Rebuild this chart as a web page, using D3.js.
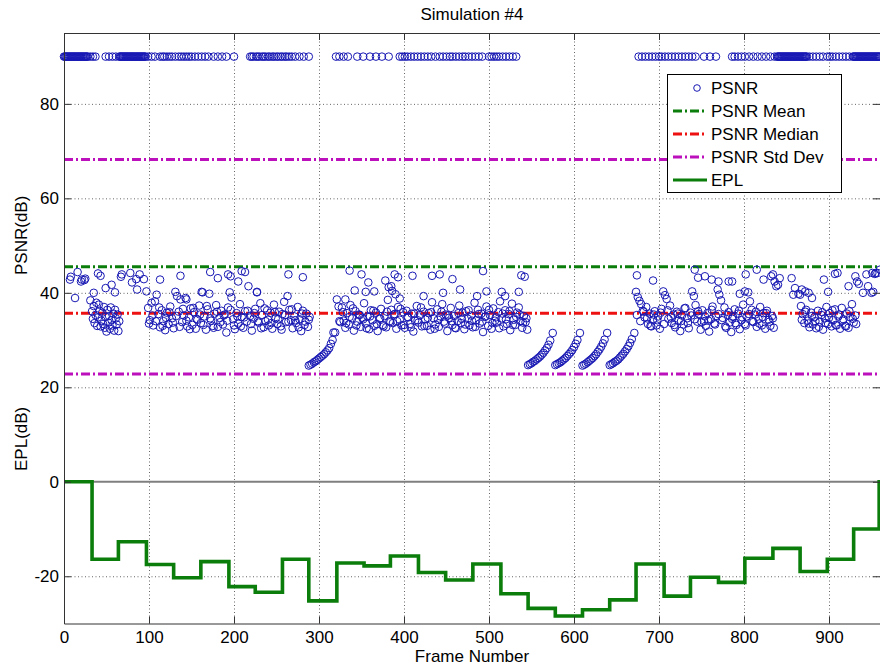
<!DOCTYPE html>
<html>
<head>
<meta charset="utf-8">
<script src="https://cdn.jsdelivr.net/npm/d3@7"></script>
<style>
  body { margin: 0; background: #fff; }
  svg { display: block; font-family: "Liberation Sans", Arial, sans-serif; }
</style>
</head>
<body>
<svg id="chart" width="880" height="670"></svg>
<script>
// ---- data ----
// frames where PSNR saturates at 90 dB (identical frames)
var cappedFrames = [0,1,2,3,4,5,6,7,8,9,10,11,12,13,14,15,16,17,18,19,20,21,22,23,24,25,26,27,28,
  31,34,37,49,53,57,61,
  65,66,67,68,69,70,71,72,73,74,75,76,77,78,79,80,81,82,83,84,85,86,87,88,89,90,91,92,93,94,95,96,99,
  103,107,113,116,118,121,124,127,131,135,138,141,144,147,150,154,158,162,166,170,176,181,186,191,200,
  219,221,223,226,228,230,233,235,237,240,242,245,247,250,252,255,257,260,262,265,268,272,277,282,288,
  320,324,329,334,345,352,360,367,374,382,
  395,398,401,404,408,412,416,420,424,428,432,437,442,446,450,454,457,461,465,469,472,476,480,484,488,492,
  500,503,506,509,512,516,520,524,528,532,
  676,680,684,688,692,696,700,703,707,711,715,719,723,727,731,735,739,743,753,760,767,
  786,789,793,797,801,806,811,816,821,826,831,836,
  839,840,841,842,843,844,845,846,847,848,849,850,851,852,853,854,855,856,857,858,859,860,861,862,863,864,865,866,867,868,869,870,871,872,873,874,
  877,881,885,889,893,898,901,904,908,912,916,920,924,
  928,929,930,931,932,933,934,935,936,937,938,939,940,941,942,943,944,945,946,947,948,949,950,951,952,953,954,955,956,957,958,959,960];
var cappedValue = 90;

// [frame, PSNR dB] for frames decoded with loss
var psnrStart = [[7,42.8],[8,43.4],[13,38.9],[16,44.4],[20,42.4],[21,42.8],[24,42.7],[25,43.0],[31,38.4],[35,40.0],[40,44.1],[43,43.6],
  [49,41.0],[56,41.7],[60,40.1],[67,43.4],[68,43.9],[78,44.2],[80,42.2],[85,42.9],[86,40.7],[89,43.9],[94,42.9],[97,40.3]];
var psnrBand1 = [[33,36.1],[34,34.5],[35,37.2],[36,33.6],[37,35.3],[38,37.9],[39,33.0],[40,34.8],[41,37.5],[42,36.2],[43,32.9],[44,34.1],
  [45,35.8],[46,33.4],[47,37.0],[48,32.6],[49,34.9],[50,31.8],[51,36.4],[52,33.7],[53,35.1],[54,32.4],[55,36.9],[56,34.2],[57,33.1],
  [58,35.6],[59,32.0],[60,36.4],[61,34.6],[62,33.3],[63,35.4],[64,31.9],[65,34.0]];
var psnrBand2 = [[99,36.8],[101,34.2],[103,37.9],[105,33.1],[107,38.2],[109,39.6],[111,35.5],[113,32.7],[115,36.3],[117,34.0],[119,32.1],
  [121,35.8],[123,33.4],[125,37.1],[127,34.6],[129,32.5],[131,40.2],[133,39.3],[135,36.0],[137,38.6],[139,33.8],[141,35.2],[143,38.9],
  [145,32.9],[147,34.8],[149,36.7],[151,33.2],[153,35.9],[155,32.4],[157,34.3],[159,37.3],[161,33.6],[163,40.1],[165,35.0],[167,32.2],
  [169,36.5],[171,39.8],[173,34.1],[175,33.0],[177,35.6],[179,37.4],[181,32.8],[183,34.7],[185,36.2],[187,33.3],[189,35.4],[191,31.6],
  [193,36.9],[195,40.1],[197,39.0],[199,34.4],[201,32.3],[203,35.7],[205,33.5],[207,37.6],[209,34.9],[211,32.6],[213,36.1],[215,33.9],
  [217,41.4],[219,35.1],[221,32.0],[223,34.5],[225,36.6],[227,40.2],[229,33.7],[231,37.8],[233,35.3],[235,32.7],[237,34.0],[239,36.3],
  [241,33.1],[243,35.8],[245,32.4],[247,37.5],[249,34.6],[251,33.4],[253,36.0],[255,32.9],[257,35.5],[259,38.1],[261,33.8],[263,39.3],
  [265,36.4],[267,34.2],[269,32.5],[271,35.0],[273,33.6],[275,37.0],[277,34.4],[279,31.9],[281,36.2],[283,33.2],[285,35.6],[287,32.8],[289,34.9],
  [100,33.5],[104,35.2],[108,34.0],[112,36.9],[116,33.0],[120,34.7],[124,35.9],[128,33.7],[132,35.1],[136,32.8],[140,36.6],[144,34.1],
  [148,32.3],[152,36.8],[156,34.5],[160,35.4],[164,33.2],[168,37.2],[172,34.6],[176,32.6],[180,36.0],[184,33.8],[188,35.2],[192,34.1],
  [196,36.4],[200,33.1],[204,35.0],[208,32.9],[212,34.8],[216,36.2],[220,33.4],[224,35.7],[228,34.0],[232,32.5],[236,36.7],[240,34.3],
  [244,33.6],[248,35.9],[252,34.4],[256,32.2],[260,35.3],[264,33.9],[268,36.5],[272,34.2],[276,32.7],[280,35.6],[284,33.9],[288,34.3],
  [113,42.8],[137,43.6],[172,44.4],[181,43.1],[193,43.9],[196,43.5],[205,42.4],[209,44.6],[213,44.4],[227,40.1],[264,43.9],[281,43.3],[162,40.2],[144,38.6]];
var psnrRamp1 = [[288,24.6],[290,24.8],[292,25.0],[294,25.3],[296,25.5],[298,25.8],[300,26.1],[302,26.4],[304,26.7],[306,27.0],[308,27.4],
  [310,27.8],[312,28.3],[314,29.2],[316,30.0],[317,31.6],[319,31.6]];
var psnrBand3 = [[321,38.6],[323,37.1],[325,33.8],[327,36.9],[329,34.1],[331,32.6],[333,35.7],[335,33.3],[337,37.4],[339,34.6],[341,32.0],
  [343,36.1],[345,33.9],[347,35.4],[349,32.8],[351,34.7],[353,37.8],[355,33.5],[357,35.0],[359,32.3],[361,36.3],[363,34.2],[365,33.0],
  [367,35.8],[369,31.9],[371,34.5],[373,36.6],[375,33.2],[377,35.1],[379,32.7],[381,38.5],[383,34.0],[385,36.4],[387,33.6],[389,35.5],
  [391,32.4],[393,37.0],[395,34.3],[397,33.1],[399,35.9],[401,32.6],[403,36.2],[405,34.8],[407,33.4],[409,35.6],[411,31.8],[413,34.1],
  [415,37.2],[417,33.7],[419,35.3],[421,32.9],[423,36.0],[425,34.4],[427,33.0],[429,35.7],[431,32.2],[433,38.0],[435,34.6],[437,33.3],
  [439,36.5],[441,32.8],[443,35.0],[445,37.6],[447,33.9],[449,35.4],[451,31.9],[453,34.7],[455,36.8],[457,33.2],[459,35.1],[461,32.5],
  [463,34.0],[465,37.3],[467,33.6],[469,35.8],[471,32.3],[473,36.1],[475,34.5],[477,33.1],[479,35.2],[481,32.7],[483,37.9],[485,34.2],
  [487,36.4],[489,33.5],[491,35.6],[493,31.7],[495,34.9],[497,37.1],[499,33.0],[501,35.3],[503,32.4],[505,36.7],[507,34.1],[509,33.7],
  [511,35.9],[513,38.2],[515,34.6],[517,32.9],[519,36.3],[521,33.4],[523,35.5],[525,32.1],[527,37.7],[529,34.3],[531,33.2],[533,35.8],
  [535,36.9],[537,34.0],[539,32.6],[541,35.1],[543,33.8],[545,32.2],
  [324,34.0],[328,35.9],[332,33.6],[336,34.9],[340,36.7],[344,33.1],[348,35.3],[352,34.4],[356,32.5],[360,35.0],[364,36.2],[368,33.4],
  [372,34.6],[376,32.9],[380,36.0],[384,33.8],[388,35.4],[392,34.0],[396,36.6],[400,33.2],[404,34.9],[408,32.7],[412,35.6],[416,34.2],
  [420,36.9],[424,33.0],[428,34.7],[432,35.9],[436,32.4],[440,34.3],[444,36.0],[448,33.5],[452,35.2],[456,34.0],[460,32.6],[464,35.7],
  [468,34.5],[472,33.3],[476,36.3],[480,34.1],[484,32.8],[488,35.5],[492,33.9],[496,35.0],[500,36.4],[504,33.6],[508,34.8],[512,32.5],
  [516,35.6],[520,34.4],[524,36.1],[528,33.2],[532,34.9],[536,35.4],[540,33.7],[544,34.6],
  [336,44.7],[350,43.9],[358,42.2],[378,42.6],[382,41.2],[386,40.4],[390,39.7],[395,38.8],[389,43.9],[393,43.3],[410,43.6],[433,43.6],
  [442,43.9],[457,42.9],[493,44.6],[538,43.7],[542,43.4],[342,40.5],[355,40.2],[365,40.3],[385,41.4],[466,40.7],[497,40.3],[515,40.2],
  [535,40.2],[331,38.6],[423,39.3],[446,40.0],[486,39.3],[519,39.3]];
var psnrRamp2 = [[546,24.7],[548,24.9],[550,25.1],[552,25.4],[554,25.6],[556,25.9],[558,26.2],[560,26.5],[562,26.9],[564,27.3],[566,27.8],
  [568,28.3],[570,29.0],[572,29.9],[575,31.5]];
var psnrRamp3 = [[578,24.7],[580,24.9],[582,25.1],[584,25.3],[586,25.6],[588,25.9],[590,26.2],[592,26.6],[594,27.0],[596,27.4],[598,27.9],
  [600,28.5],[602,29.2],[604,30.0],[607,31.5]];
var psnrRamp4 = [[610,24.6],[612,24.8],[614,25.0],[616,25.3],[618,25.6],[620,25.9],[622,26.2],[624,26.6],[626,27.0],[628,27.5],[630,28.0],
  [632,28.6],[634,29.3],[636,30.1],[639,31.5]];
var psnrRamp5 = [[642,24.7],[644,24.9],[646,25.1],[648,25.4],[650,25.6],[652,25.9],[654,26.3],[656,26.7],[658,27.1],[660,27.6],[662,28.1],
  [664,28.7],[666,29.4],[668,30.2],[671,31.5]];
var psnrBand4 = [[673,40.2],[675,39.1],[677,38.3],[679,37.6],[681,36.2],[683,34.8],[685,37.0],[687,33.4],[689,35.6],[691,32.9],[693,34.3],
  [695,36.1],[697,33.1],[699,35.0],[701,32.4],[703,36.6],[705,40.3],[707,39.5],[709,38.7],[711,34.5],[713,37.3],[715,33.6],[717,35.4],
  [719,32.7],[721,36.0],[723,34.1],[725,31.9],[727,35.2],[729,33.3],[731,36.8],[733,34.6],[735,32.5],[737,35.8],[739,40.3],[741,39.3],
  [743,37.4],[745,33.9],[747,35.5],[749,32.2],[751,36.3],[753,34.0],[755,33.0],[757,35.7],[759,31.8],[761,34.4],[763,37.1],[765,33.5],
  [767,35.1],[769,40.7],[771,39.6],[773,38.4],[775,34.7],[777,36.9],[779,32.6],[781,35.3],[783,33.7],[785,31.7],[787,34.9],[789,36.5],
  [791,33.2],[793,35.6],[795,32.3],[797,34.2],[799,37.5],[801,33.4],[803,35.0],[805,40.1],[807,38.2],[809,36.4],[811,33.8],[813,35.4],
  [815,32.8],[817,34.5],[819,37.0],[821,33.1],[823,35.7],[825,32.4],[827,36.2],[829,34.3],[831,33.0],[833,35.1],[835,32.6],
  [674,35.3],[678,34.0],[682,36.0],[686,34.6],[690,33.0],[694,35.4],[698,34.2],[702,35.8],[706,33.4],[710,36.3],[714,34.8],[718,33.2],
  [722,35.6],[726,34.0],[730,36.7],[734,33.6],[738,35.2],[742,34.4],[746,36.1],[750,33.8],[754,35.0],[758,34.1],[762,36.4],[766,33.3],
  [770,35.5],[774,34.2],[778,32.9],[782,35.9],[786,34.5],[790,33.6],[794,36.2],[798,34.8],[802,33.1],[806,35.5],[810,34.0],[814,36.0],
  [818,33.5],[822,34.9],[826,35.7],[830,33.9],[834,34.6],
  [674,43.7],[693,42.6],[742,44.9],[746,43.2],[754,43.5],[762,42.8],[770,42.4],[782,42.4],[786,42.4],[795,39.8],[801,40.3],[802,43.9],
  [815,44.9],[823,42.8],[832,43.5],[834,43.9],[836,42.4],[838,41.4],[840,41.7],[842,43.1],[856,43.1],[858,39.6],[860,41.0],[864,39.8]];
var psnrBand5 = [[866,39.6],[868,40.7],[872,40.3],[876,40.0],[880,38.9],[894,42.8],[899,40.2],[907,44.0],[910,44.2],[923,41.4],
  [867,37.2],[869,35.5],[871,33.6],[873,36.4],[875,34.1],[877,32.7],[879,35.8],[881,33.3],[883,34.9],[885,32.5],[887,36.2],[889,33.9],
  [891,35.3],[893,32.2],[895,34.6],[897,37.0],[899,33.4],[901,35.7],[903,32.9],[905,34.2],[907,36.5],[909,33.1],[911,35.0],[913,32.4],
  [915,36.8],[917,34.4],[919,33.0],[921,35.6],[923,32.6],[925,34.8],[927,37.6],[929,33.7],[931,35.2],
  [868,34.3],[872,36.0],[876,33.5],[880,35.1],[884,34.0],[888,32.8],[892,35.9],[896,33.6],[900,34.7],[904,36.3],[908,33.2],[912,35.4],
  [916,34.1],[920,32.9],[924,36.1],[928,34.5],[932,33.4],
  [931,43.5],[933,42.4],[935,41.9],[940,40.0],[944,43.9],[946,41.4],[950,40.0],[951,44.2],[952,40.2],[954,44.0],[955,44.2],[957,44.2],[960,44.9]];

var psnrMean = 45.5;
var psnrMedian = 35.7;
var psnrStd = 22.7;

// EPL staircase: value holds from frame until the next frame
var eplFrames = [0, 33, 64, 97, 129, 161, 194, 225, 257, 288, 321, 353, 384, 417, 449, 481, 514, 546, 578, 610, 642, 673, 706, 737, 770, 801, 834, 866, 898, 929, 959, 960];
var eplValues = [0, -16.4, -12.7, -17.5, -20.3, -16.9, -22.2, -23.4, -16.4, -25.2, -17.2, -17.8, -15.7, -19.2, -20.8, -17.4, -23.7, -26.8, -28.4, -27.1, -25.0, -17.4, -24.2, -20.2, -21.3, -16.2, -14.1, -19.0, -16.4, -10.0, 0, 0];

var xTicks = [0, 100, 200, 300, 400, 500, 600, 700, 800, 900];
var yTicks = [-20, 0, 20, 40, 60, 80];
var legendLabels = ["PSNR", "PSNR Mean", "PSNR Median", "PSNR Std Dev", "EPL"];

// ---- layout ----
var plotLeft = 64, plotRight = 880, plotTop = 33, plotBottom = 623.5;
var fontSize = 17;
var green = "#0b7d0b", red = "#ee1111", magenta = "#bb10bb", blue = "#1818b4";
var dashDot = "9,3,2,3";
var markerR = 3.8;

var svg = d3.select("#chart");

var x = d3.scaleLinear().domain([0, 960]).range([plotLeft, plotRight]);
var y = d3.scaleLinear().domain([-30, 95]).range([plotBottom, plotTop]);

// grid (dotted)
svg.append("g")
    .attr("transform", "translate(0," + plotBottom + ")")
    .call(d3.axisBottom(x).tickValues(xTicks.slice(1)).tickSize(-(plotBottom - plotTop)).tickFormat(""))
    .call(g => g.select(".domain").remove())
    .selectAll("line").attr("stroke", "#666").attr("stroke-dasharray", "1,2.5");

svg.append("g")
    .attr("transform", "translate(" + plotLeft + ",0)")
    .call(d3.axisLeft(y).tickValues([-20, 20, 40, 60, 80]).tickSize(-(plotRight - plotLeft)).tickFormat(""))
    .call(g => g.select(".domain").remove())
    .selectAll("line").attr("stroke", "#666").attr("stroke-dasharray", "1,2.5");

// zero line between the two panels
svg.append("line")
    .attr("x1", plotLeft).attr("x2", plotRight)
    .attr("y1", y(0)).attr("y2", y(0))
    .attr("stroke", "#7f7f7f").attr("stroke-width", 2);

// statistic lines
var statLines = [
    { v: psnrMean, c: green },
    { v: psnrMedian, c: red },
    { v: psnrMean + psnrStd, c: magenta },
    { v: psnrMean - psnrStd, c: magenta }
];
svg.append("g").selectAll("line")
    .data(statLines)
    .enter().append("line")
    .attr("x1", plotLeft).attr("x2", plotRight)
    .attr("y1", d => y(d.v)).attr("y2", d => y(d.v))
    .attr("stroke", d => d.c)
    .attr("stroke-width", 3)
    .attr("stroke-dasharray", dashDot);

// PSNR markers
var psnrPoints = cappedFrames.map(f => [f, cappedValue])
    .concat(psnrStart, psnrBand1, psnrBand2, psnrRamp1, psnrBand3, psnrRamp2, psnrRamp3, psnrRamp4, psnrRamp5, psnrBand4, psnrBand5);

svg.append("g").selectAll("circle")
    .data(psnrPoints)
    .enter().append("circle")
    .attr("cx", d => x(d[0]))
    .attr("cy", d => y(d[1]))
    .attr("r", markerR)
    .attr("fill", "none")
    .attr("stroke", blue)
    .attr("stroke-width", 1);

// EPL
var epl = eplFrames.map((f, i) => [f, eplValues[i]]);
svg.append("path")
    .datum(epl)
    .attr("fill", "none")
    .attr("stroke", green)
    .attr("stroke-width", 3.6)
    .attr("d", d3.line().x(d => x(d[0])).y(d => y(d[1])).curve(d3.curveStepAfter));

// axes (MATLAB style: ticks inside)
var axisColor = "#333";
var plainNum = d => String(d);
var gx = svg.append("g")
    .attr("transform", "translate(0," + plotBottom + ")")
    .call(d3.axisBottom(x).tickValues(xTicks).tickSize(-7).tickSizeOuter(0).tickPadding(7).tickFormat(plainNum));
var gxt = svg.append("g")
    .attr("transform", "translate(0," + plotTop + ")")
    .call(d3.axisTop(x).tickValues(xTicks).tickSize(-7).tickSizeOuter(0).tickFormat(""));
var gy = svg.append("g")
    .attr("transform", "translate(" + plotLeft + ",0)")
    .call(d3.axisLeft(y).tickValues(yTicks).tickSize(-7).tickSizeOuter(0).tickPadding(5).tickFormat(plainNum));
var gyr = svg.append("g")
    .attr("transform", "translate(" + plotRight + ",0)")
    .call(d3.axisRight(y).tickValues(yTicks).tickSize(-7).tickFormat(""))
    .call(g => g.select(".domain").remove());

[gx, gxt, gy, gyr].forEach(g => {
    g.selectAll("path, line").attr("stroke", axisColor);
    g.selectAll("text").attr("fill", "#000").style("font-size", fontSize + "px")
        .style("font-family", "'Liberation Sans', Arial, sans-serif");
});

// titles
svg.append("text")
    .attr("x", (plotLeft + plotRight) / 2).attr("y", 20)
    .attr("text-anchor", "middle")
    .style("font-size", fontSize + "px")
    .text("Simulation #4");

svg.append("text")
    .attr("x", (plotLeft + plotRight) / 2).attr("y", 662)
    .attr("text-anchor", "middle")
    .style("font-size", fontSize + "px")
    .text("Frame Number");

svg.append("text")
    .attr("transform", "translate(27,275) rotate(-90)")
    .style("font-size", fontSize + "px")
    .text("PSNR(dB)");

svg.append("text")
    .attr("transform", "translate(27,471) rotate(-90)")
    .style("font-size", fontSize + "px")
    .text("EPL(dB)");

// legend
var lg = svg.append("g");
lg.append("rect")
    .attr("x", 667.5).attr("y", 74.5)
    .attr("width", 174).attr("height", 118)
    .attr("fill", "#fff").attr("stroke", "#000").attr("stroke-width", 1);

var legendY = d3.scalePoint().domain(legendLabels).range([88, 180]);
var legendStyle = {
    "PSNR Mean": { c: green, dash: dashDot },
    "PSNR Median": { c: red, dash: dashDot },
    "PSNR Std Dev": { c: magenta, dash: dashDot },
    "EPL": { c: green, dash: null }
};

legendLabels.forEach(name => {
    var yy = legendY(name);
    if (name === "PSNR") {
        lg.append("circle")
            .attr("cx", 697).attr("cy", yy).attr("r", 3.3)
            .attr("fill", "none").attr("stroke", blue);
    } else {
        var s = legendStyle[name];
        lg.append("line")
            .attr("x1", 673).attr("x2", 707)
            .attr("y1", yy).attr("y2", yy)
            .attr("stroke", s.c)
            .attr("stroke-width", 3)
            .attr("stroke-dasharray", s.dash);
    }
    lg.append("text")
        .attr("x", 711).attr("y", yy + 6)
        .style("font-size", fontSize + "px")
        .text(name);
});
</script>
</body>
</html>
